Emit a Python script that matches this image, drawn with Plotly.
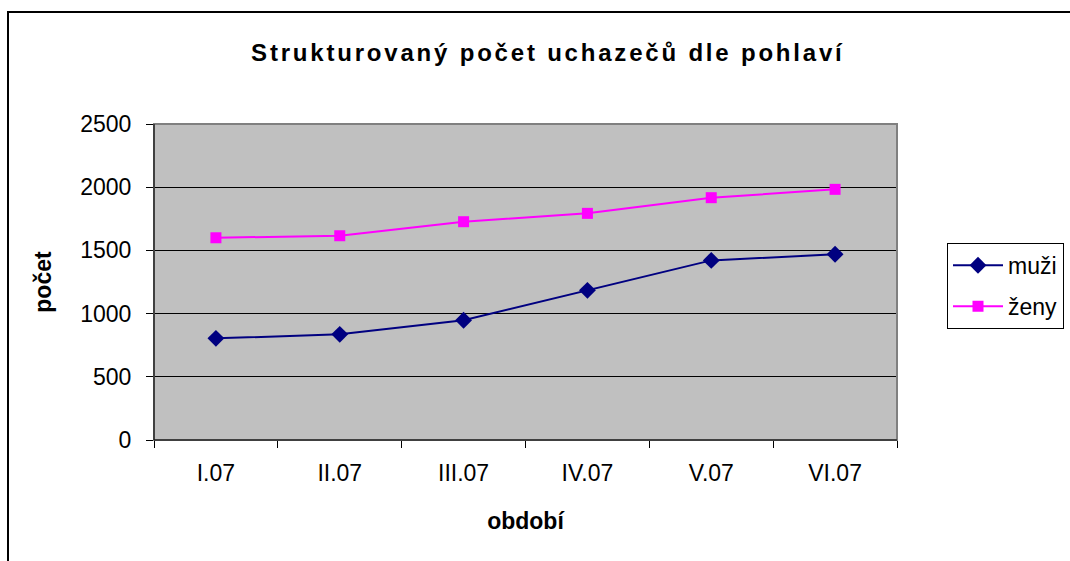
import plotly.graph_objects as go

categories = ["I.07", "II.07", "III.07", "IV.07", "V.07", "VI.07"]
muzi = [804, 836, 947, 1184, 1421, 1469]
zeny = [1600, 1616, 1727, 1793, 1917, 1983]
y_ticks = [0, 500, 1000, 1500, 2000, 2500]

FONT = "Liberation Sans, Arial, sans-serif"

fig = go.Figure()
fig.add_trace(go.Scatter(
    x=categories, y=muzi, name="muži", mode="lines+markers",
    legendgroup="m",
    line=dict(color="#000080", width=2),
    marker=dict(symbol="diamond", size=13, color="#000080"),
))
fig.add_trace(go.Scatter(
    x=categories, y=zeny, name="ženy", mode="lines+markers",
    legendgroup="z",
    line=dict(color="#FF00FF", width=2),
    marker=dict(symbol="square", size=11, color="#FF00FF"),
))

fig.update_layout(
    width=1070, height=561,
    margin=dict(l=154, r=173, t=124, b=121, autoexpand=False),
    paper_bgcolor="white",
    plot_bgcolor="#C0C0C0",
    font=dict(family=FONT, size=23, color="black"),
    title=dict(text="<b>Strukturovaný počet uchazečů dle pohlaví</b>",
               x=0.512, xanchor="center", y=0.907, yanchor="middle",
               font=dict(family=FONT, size=24, color="black")),
    showlegend=True,
    legend=dict(x=1.0673, xanchor="left", y=0.624, yanchor="top",
                bordercolor="black", borderwidth=1, bgcolor="white",
                font=dict(family=FONT, size=23, color="black"),
                traceorder="grouped", tracegroupgap=8, itemwidth=50),
    xaxis=dict(
        type="category", range=[-0.5, 5.5],
        tickson="boundaries", ticks="outside", ticklen=7, tickcolor="black",
        showline=True, linecolor="black", linewidth=1,
        showgrid=False, zeroline=False,
        ticklabelstandoff=12,
        tickfont=dict(family=FONT, size=23),
        title=dict(text="<b>období</b>", standoff=28,
                   font=dict(family=FONT, size=23)),
    ),
    yaxis=dict(
        range=[0, 2500], tickvals=y_ticks,
        ticks="outside", ticklen=7, tickcolor="black",
        showline=True, linecolor="black", linewidth=1,
        showgrid=True, gridcolor="black", gridwidth=1,
        zeroline=False,
        ticklabelstandoff=10,
        tickfont=dict(family=FONT, size=23),
        title=dict(text="<b>počet</b>", standoff=22,
                   font=dict(family=FONT, size=23)),
    ),
)

# plot-area border (gray)
fig.add_shape(type="rect", xref="paper", yref="paper", x0=0, y0=0, x1=1, y1=1,
              line=dict(color="#808080", width=2), layer="above")
# left/bottom axis lines in black on top
fig.add_shape(type="line", xref="paper", yref="paper", x0=0, y0=0, x1=0, y1=1,
              line=dict(color="black", width=1), layer="above")
fig.add_shape(type="line", xref="paper", yref="paper", x0=0, y0=0, x1=1, y1=0,
              line=dict(color="black", width=1), layer="above")
# chart outer border (extends beyond the visible window right and bottom)
fig.add_shape(type="rect", xref="paper", yref="paper",
              x0=-146 / 743, y0=-0.5, x1=1.5, y1=(440 - 12) / 316,
              line=dict(color="black", width=2), layer="below")

post = (
    "document.body.style.margin='0';"
    "document.body.style.overflow='hidden';"
    "document.querySelectorAll('.gtitle').forEach(function(e){"
    "e.style.letterSpacing='2.8px';});"
)
fig.write_html("out.html", config={"displayModeBar": False}, post_script=post)
